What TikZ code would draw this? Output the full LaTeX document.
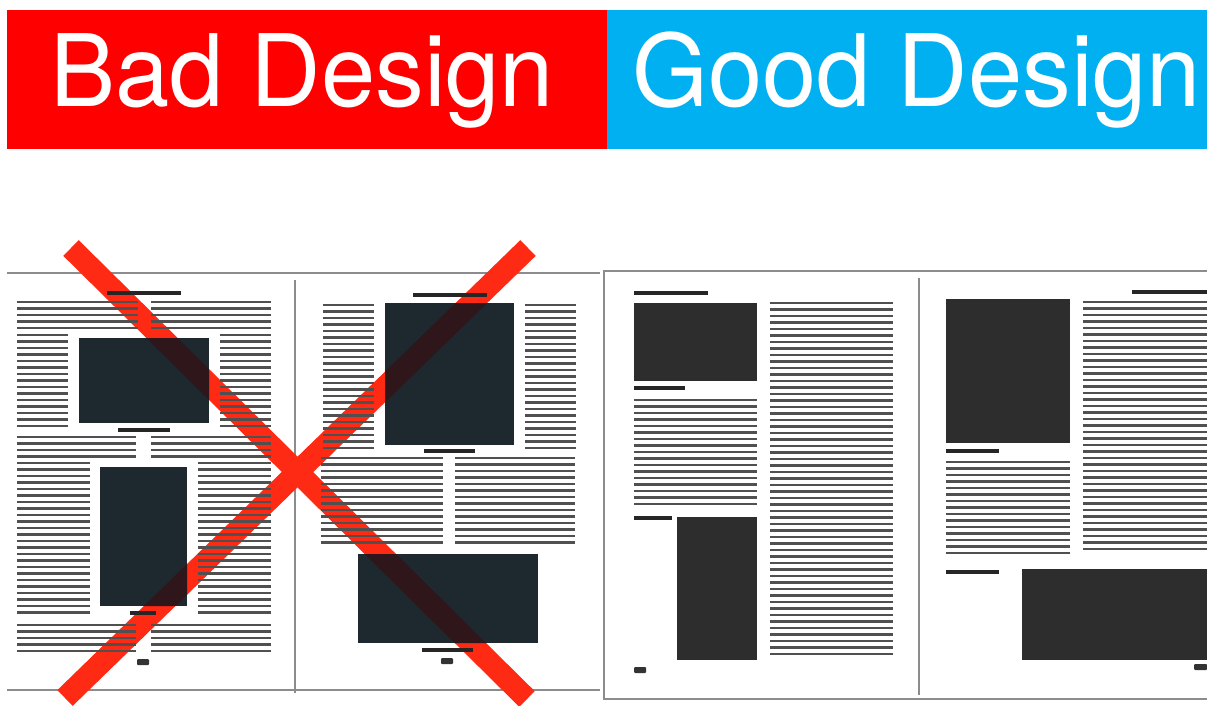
\documentclass[tikz,border=0pt]{standalone}
\usepackage{fontspec}
\setmainfont[FakeStretch=0.975]{TeX Gyre Heros}
\definecolor{BadRed}{RGB}{254, 0, 0}
\definecolor{GoodBlue}{RGB}{0, 176, 240}
\definecolor{CrossRed}{RGB}{255, 42, 20}
\definecolor{CrossDark}{RGB}{46, 22, 26}
\definecolor{SlateInk}{RGB}{30, 40, 47}
\definecolor{GrayInk}{RGB}{45, 45, 45}
\definecolor{RowInk}{RGB}{80, 80, 80}
\definecolor{EdgeGray}{RGB}{140, 140, 140}

% n rows of body text: left x, right x, top y, count
\newcommand{\textrows}[4]{%
  \foreach \k in {1,...,#4} {\draw[rows] (#1,{#3+(\k-1)*6.5}) -- (#2,{#3+(\k-1)*6.5});}}

\begin{document}
\begin{tikzpicture}[
    x=1pt, y=-1pt,
    headtext/.style={anchor=base west, inner sep=0pt, text=white, font=\fontsize{100}{100}\selectfont},
    rows/.style={draw=RowInk, line width=2.2pt},
    photo/.style={fill=#1},
    bar/.style={draw=black!85, line width=3.5pt},
    folio/.style={fill=black!80, rounded corners=1pt},
    edge/.style={draw=EdgeGray, line width=1.2pt},
    cross/.style={draw=#1, line width=22pt}
]
    \clip (0,0) rectangle (1207,706);

    % Kopfzeile
    \fill[BadRed] (7,10) rectangle (607,149);
    \fill[GoodBlue] (607,10) rectangle (1207,149);
    \node[headtext] (badTitle) at (50,107) {Bad Design};
    \node[headtext] (goodTitle) at (632,107) {Good Design};

    % Schlechte Doppelseite
    \draw[edge] (7,273) -- (600,273);
    \draw[edge] (7,690) -- (600,690);
    \draw[edge] (295,280) -- (295,693);

    % Kreuz (unter dem Satz)
    \coordinate (xTL) at (71,248);
    \coordinate (xBR) at (527,699);
    \coordinate (xTR) at (528,248);
    \coordinate (xBL) at (65,698);
    \draw[cross=CrossRed] (xTL) -- (xBR);
    \draw[cross=CrossRed] (xTR) -- (xBL);

    \textrows{17}{138}{302}{5}
    \textrows{151}{271}{302}{5}
    \textrows{17}{68}{335}{15}
    \textrows{220}{271}{335}{15}
    \textrows{17}{136}{437}{4}
    \textrows{151}{271}{437}{4}
    \textrows{17}{90}{463}{24}
    \textrows{198}{271}{463}{24}
    \textrows{17}{136}{625}{5}
    \textrows{151}{271}{625}{5}
    \fill[photo=SlateInk] (79,338) rectangle (209,423);
    \fill[photo=SlateInk] (100,467) rectangle (187,606);
    \draw[bar] (107,293) -- (181,293);
    \draw[bar] (118,430) -- (170,430);
    \draw[bar] (130,613) -- (156,613);
    \fill[folio] (137,659) rectangle (149,665);

    \textrows{323}{374}{305}{23}
    \textrows{525}{576}{305}{23}
    \textrows{321}{443}{458}{14}
    \textrows{455}{575}{458}{14}
    \fill[photo=SlateInk] (385,303) rectangle (514,445);
    \fill[photo=SlateInk] (358,554) rectangle (538,643);
    \draw[bar] (413,295) -- (487,295);
    \draw[bar] (424,451) -- (475,451);
    \draw[bar] (422,650) -- (473,650);
    \fill[folio] (441,658) rectangle (453,664);

    % Kreuz auf den Bildern
    \begin{scope}
        \clip (79,338) rectangle (209,423) (100,467) rectangle (187,606)
              (385,303) rectangle (514,445) (358,554) rectangle (538,643);
        \draw[cross=CrossDark] (xTL) -- (xBR);
        \draw[cross=CrossDark] (xTR) -- (xBL);
    \end{scope}

    % Gute Doppelseite
    \draw[edge] (604,271) rectangle (1215,699);
    \draw[edge] (919,278) -- (919,695);

    \textrows{634}{757}{400}{17}
    \textrows{770}{893}{303}{55}
    \textrows{946}{1070}{462}{15}
    \textrows{1083}{1207}{302}{39}
    \fill[photo=GrayInk] (634,303) rectangle (757,381);
    \fill[photo=GrayInk] (677,517) rectangle (757,660);
    \fill[photo=GrayInk] (946,299) rectangle (1070,443);
    \fill[photo=GrayInk] (1022,569) rectangle (1207,660);
    \draw[bar] (634,293) -- (708,293);
    \draw[bar] (634,388) -- (685,388);
    \draw[bar] (634,518) -- (672,518);
    \draw[bar] (1132,292) -- (1207,292);
    \draw[bar] (946,451) -- (999,451);
    \draw[bar] (946,572) -- (999,572);
    \fill[folio] (634,667) rectangle (646,673);
    \fill[folio] (1194,664) rectangle (1207,670);
\end{tikzpicture}
\end{document}
